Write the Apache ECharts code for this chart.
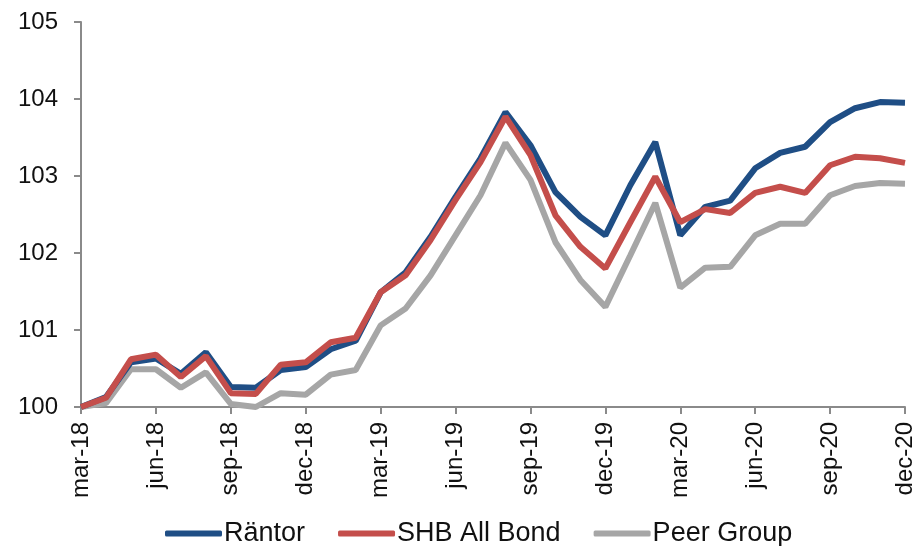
<!DOCTYPE html>
<html><head><meta charset="utf-8">
<script src="https://cdn.jsdelivr.net/npm/echarts@6/dist/echarts.min.js"></script>
<style>html,body{margin:0;padding:0;background:#fff}#c{width:919px;height:546px}</style>
</head><body><div id="c"></div>
<script>
const categories = ["mar-18","apr-18","maj-18","jun-18","jul-18","aug-18","sep-18","okt-18","nov-18","dec-18",
"jan-19","feb-19","mar-19","apr-19","maj-19","jun-19","jul-19","aug-19","sep-19","okt-19","nov-19","dec-19",
"jan-20","feb-20","mar-20","apr-20","maj-20","jun-20","jul-20","aug-20","sep-20","okt-20","nov-20","dec-20"];
const rantor = [100.0,100.13,100.58,100.63,100.43,100.71,100.26,100.25,100.48,100.52,
100.75,100.86,101.49,101.75,102.21,102.73,103.23,103.83,103.40,102.79,102.47,102.23,
102.88,103.44,102.23,102.60,102.68,103.10,103.30,103.38,103.70,103.88,103.96,103.95];
const shb = [100.0,100.12,100.62,100.68,100.39,100.66,100.18,100.17,100.55,100.58,
100.84,100.90,101.49,101.71,102.17,102.69,103.18,103.77,103.27,102.49,102.08,101.80,
102.40,102.99,102.40,102.57,102.52,102.78,102.86,102.78,103.14,103.25,103.23,103.17];
const peer = [100.0,100.05,100.49,100.49,100.25,100.45,100.04,100.0,100.18,100.16,
100.42,100.48,101.06,101.28,101.71,102.23,102.75,103.43,102.95,102.14,101.65,101.30,
101.97,102.65,101.55,101.81,101.82,102.23,102.38,102.38,102.75,102.87,102.91,102.90];
const seriesNames = ["Räntor","SHB All Bond","Peer Group"];
const colors = ["#1F4E85","#C44E4B","#A6A6A6"];

const font = "'Liberation Sans',Arial,sans-serif";
const chart = echarts.init(document.getElementById('c'), null, {renderer:'canvas'});
chart.setOption({
  animation:false,
  grid:{left:81,right:14,top:22,bottom:139,containLabel:false},
  legend:{
    top:515, left:160, itemWidth:57, itemHeight:6, itemGap:33,
    icon:'roundRect',
    textStyle:{fontFamily:font,fontSize:27,color:'#111',padding:[0,0,0,-3]},
    data:seriesNames
  },
  xAxis:{
    type:'category', data:categories, boundaryGap:false,
    axisLine:{lineStyle:{color:'#8a8a8a',width:2}},
    axisTick:{show:true,interval:2,length:7,lineStyle:{color:'#8a8a8a',width:2}},
    axisLabel:{interval:2,rotate:90,fontFamily:font,fontSize:24,color:'#111',margin:15}
  },
  yAxis:{
    type:'value', min:100, max:105, interval:1,
    splitLine:{show:false},
    axisLine:{show:true,lineStyle:{color:'#8a8a8a',width:2}},
    axisTick:{show:true,length:7,lineStyle:{color:'#8a8a8a',width:2}},
    axisLabel:{fontFamily:font,fontSize:24,color:'#111',margin:23}
  },
  series:[
    {name:seriesNames[2],type:'line',data:peer,symbol:'none',lineStyle:{width:6,color:colors[2]},itemStyle:{color:colors[2]},z:2},
    {name:seriesNames[1],type:'line',data:shb,symbol:'none',lineStyle:{width:6,color:colors[1]},itemStyle:{color:colors[1]},z:4},
    {name:seriesNames[0],type:'line',data:rantor,symbol:'none',lineStyle:{width:6,color:colors[0]},itemStyle:{color:colors[0]},z:3}
  ]
});
</script></body></html>
